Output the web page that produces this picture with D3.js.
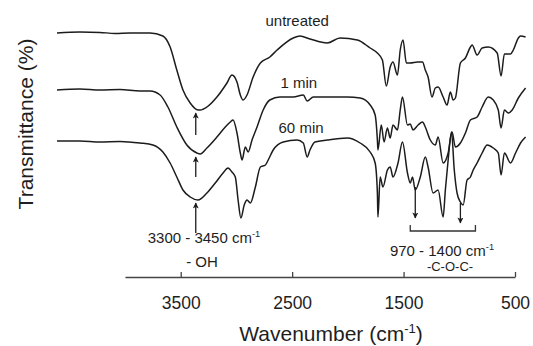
<!DOCTYPE html>
<html>
<head>
<meta charset="utf-8">
<script src="https://cdn.jsdelivr.net/npm/d3@7"></script>
<style>
  html, body { margin: 0; padding: 0; background: #fff; }
  svg { display: block; }
  text { font-family: "Liberation Sans", Arial, Helvetica, sans-serif; fill: #1e1e1e; }
</style>
</head>
<body>
<div id="chart"></div>
<script>
// spectra, [wavenumber cm-1, transmittance (arbitrary, offset per trace)]
const untreated = [
  [4610, 98.5], [4405, 99], [4225, 98.8], [4090, 98.3], [3955, 98.5], [3775, 98.5],
  [3660, 97], [3595, 91.5], [3535, 80], [3480, 70], [3415, 63.5], [3345, 60],
  [3325, 60], [3265, 61.5], [3175, 66.5], [3085, 73.5], [3040, 77.5], [2995, 74],
  [2965, 67.5], [2940, 65], [2905, 67.5], [2850, 76.5], [2785, 83.5], [2700, 86.5],
  [2635, 90], [2490, 96], [2430, 97], [2340, 95.5], [2185, 93.5], [2070, 96],
  [1915, 95], [1800, 91], [1735, 88.5], [1690, 85], [1655, 72], [1620, 81.5],
  [1595, 84], [1555, 77.5], [1530, 90], [1505, 95], [1475, 83.5], [1440, 83.5],
  [1375, 84], [1330, 84], [1305, 80], [1280, 76.5], [1245, 66.5], [1215, 71],
  [1190, 71.5], [1145, 66.5], [1110, 62.5], [1080, 69], [1055, 65], [1035, 66],
  [990, 83.5], [945, 86], [900, 91.5], [885, 92.5], [840, 87.5], [795, 91],
  [740, 91.5], [660, 88.5], [625, 77], [595, 88], [540, 88], [515, 90],
  [470, 96], [450, 97], [405, 96.5]
];
const min1 = [
  [4610, 70], [4405, 70.5], [4225, 70], [4045, 70.3], [3865, 69.5], [3775, 69.5],
  [3685, 67.5], [3615, 61.5], [3535, 51.5], [3445, 42.5], [3355, 38.5], [3325, 38],
  [3265, 41], [3175, 46.5], [3100, 51.5], [3055, 54], [3030, 55], [2995, 48.5],
  [2965, 38.5], [2950, 35], [2920, 41.5], [2895, 39], [2860, 45], [2815, 51.5],
  [2760, 60], [2700, 65], [2610, 66.5], [2490, 66.5], [2400, 67.5], [2365, 64.5],
  [2310, 66.5], [2185, 66.5], [2005, 66.5], [1890, 66], [1800, 62.5], [1755, 57.5],
  [1735, 45], [1730, 40], [1700, 52.5], [1675, 44], [1645, 51], [1620, 46],
  [1595, 52.5], [1555, 50], [1530, 60], [1510, 66.5], [1465, 52.5], [1440, 53],
  [1415, 50], [1370, 52.5], [1330, 54], [1305, 51.5], [1260, 45], [1215, 42.5],
  [1190, 46.5], [1145, 33.5], [1100, 38.5], [1065, 49], [1035, 41.5], [990, 43.5],
  [945, 48.5], [900, 55], [840, 56.5], [795, 61.5], [740, 66.5], [695, 65],
  [650, 60], [625, 51], [595, 60], [560, 58.5], [525, 60], [470, 66], [405, 71]
];
const min60 = [
  [4610, 44.5], [4405, 44.5], [4225, 44], [4045, 44.3], [3865, 43.5], [3750, 42.5],
  [3660, 39], [3595, 33.5], [3535, 26.5], [3480, 20], [3415, 16.5], [3345, 15],
  [3265, 18.5], [3190, 23.5], [3120, 28.5], [3075, 31], [3040, 29], [3010, 26.5],
  [2985, 15], [2960, 6], [2930, 12.5], [2905, 15], [2875, 13.5], [2830, 21.5],
  [2785, 31.5], [2740, 32.5], [2715, 35], [2670, 40], [2580, 44], [2455, 45],
  [2400, 43.5], [2365, 36.5], [2340, 40], [2295, 44], [2185, 45], [2005, 46],
  [1890, 43.5], [1800, 39], [1755, 33.5], [1735, 18.5], [1730, 6.5], [1710, 26.5],
  [1685, 21.5], [1645, 30], [1620, 31.5], [1595, 26.5], [1550, 33.5], [1510, 44],
  [1465, 28.5], [1440, 23.5], [1420, 26.5], [1395, 20], [1350, 26.5], [1305, 36.5],
  [1280, 31.5], [1235, 18.5], [1190, 20], [1145, 6.5], [1125, 20], [1100, 35],
  [1070, 49], [1045, 30], [1020, 18.5], [990, 14], [965, 12.5], [930, 25],
  [900, 26.5], [875, 30], [840, 33.5], [795, 38.5], [750, 42.5], [695, 41],
  [650, 38.5], [625, 27.5], [595, 38.5], [540, 33.5], [495, 38.5], [450, 43.5],
  [405, 46.5]
];

const seriesNames = ["untreated", "1 min", "60 min"];
const seriesLabelAt = [[2455, 102], [2440, 71], [2420, 48.5]];
const xTicks = [3500, 2500, 1500, 500];

// band markers: wavenumber, from T, to T
const ohArrows = [[3365, 47.5, 58.5], [3365, 26.5, 36.5], [3365, -1.5, 13.5]];
const cocArrows = [[1395, 21.5, 6], [990, 13.5, 3.5]];
const cocBracket = [1440, 855];

const width = 533, height = 346;
const svg = d3.select("#chart").append("svg")
  .attr("width", width).attr("height", height);

const x = d3.scaleLinear().domain([4000, 500]).range([125, 515]);
const y = d3.scaleLinear().domain([0, 100]).range([230, 30]);

const line = d3.line()
  .x(d => x(d[0]))
  .y(d => y(d[1]))
  .curve(d3.curveMonotoneX);

[untreated, min1, min60].forEach(s => {
  svg.append("path")
    .datum(s)
    .attr("d", line)
    .attr("fill", "none")
    .attr("stroke", "#1c1c1c")
    .attr("stroke-width", 1.5)
    .attr("stroke-linejoin", "round");
});

svg.selectAll(".series-label")
  .data(seriesNames)
  .enter().append("text")
  .attr("class", "series-label")
  .attr("x", (d, i) => x(seriesLabelAt[i][0]))
  .attr("y", (d, i) => y(seriesLabelAt[i][1]))
  .attr("text-anchor", "middle")
  .style("font-size", "15px")
  .text(d => d);

// arrows
const defs = svg.append("defs");
defs.append("marker")
  .attr("id", "head")
  .attr("viewBox", "0 0 10 10")
  .attr("refX", 9).attr("refY", 5)
  .attr("markerWidth", 8).attr("markerHeight", 6)
  .attr("markerUnits", "userSpaceOnUse")
  .attr("orient", "auto")
  .append("path")
  .attr("d", "M0,0 L10,5 L0,10 L2.5,5 Z")
  .attr("fill", "#1c1c1c");

svg.selectAll(".arrow")
  .data(ohArrows.concat(cocArrows))
  .enter().append("line")
  .attr("class", "arrow")
  .attr("x1", d => x(d[0])).attr("x2", d => x(d[0]))
  .attr("y1", d => y(d[1])).attr("y2", d => y(d[2]))
  .attr("stroke", "#1c1c1c")
  .attr("stroke-width", 1.3)
  .attr("marker-end", "url(#head)");

// C-O-C bracket
const bx0 = x(cocBracket[0]), bx1 = x(cocBracket[1]);
const by = y(-0.5), byTop = y(2.5);
svg.append("path")
  .attr("d", `M${bx0},${byTop}V${by}H${bx1}V${byTop}`)
  .attr("fill", "none")
  .attr("stroke", "#333")
  .attr("stroke-width", 1.3);

function supText(xp, yp, main, sup, size) {
  const t = svg.append("text")
    .attr("x", xp).attr("y", yp)
    .attr("text-anchor", "middle")
    .style("font-size", size + "px");
  t.append("tspan").text(main);
  t.append("tspan")
    .attr("dy", -size * 0.38)
    .style("font-size", (size * 0.62) + "px")
    .text(sup);
  return t;
}

supText(204, 242.5, "3300 - 3450 cm", "-1", 15);
svg.append("text")
  .attr("x", 202).attr("y", 267)
  .attr("text-anchor", "middle")
  .style("font-size", "15px")
  .text("- OH");

supText(442, 255.5, "970 - 1400 cm", "-1", 15);
svg.append("text")
  .attr("x", 450).attr("y", 271)
  .attr("text-anchor", "middle")
  .style("font-size", "13px")
  .text("-C-O-C-");

// x axis
const axis = svg.append("g")
  .attr("transform", "translate(0,277)")
  .call(d3.axisBottom(x)
    .tickValues(xTicks)
    .tickSizeInner(-5)
    .tickSizeOuter(0)
    .tickPadding(20)
    .tickFormat(d3.format("d")));
axis.select(".domain").attr("stroke", "#444").attr("stroke-width", 1.5);
axis.selectAll(".tick line").attr("stroke", "#444").attr("stroke-width", 1.3);
axis.selectAll(".tick text")
  .attr("fill", "#1e1e1e")
  .style("font-size", "17.5px")
  .style("font-family", "'Liberation Sans', Arial, sans-serif");

// axis titles
supText(331, 341, "Wavenumber (cm", "-1", 21).append("tspan")
  .attr("dy", 21 * 0.38)
  .style("font-size", "21px")
  .text(")");

svg.append("text")
  .attr("transform", "translate(33,124) rotate(-90)")
  .attr("text-anchor", "middle")
  .style("font-size", "21px")
  .text("Transmittance (%)");
</script>
</body>
</html>
